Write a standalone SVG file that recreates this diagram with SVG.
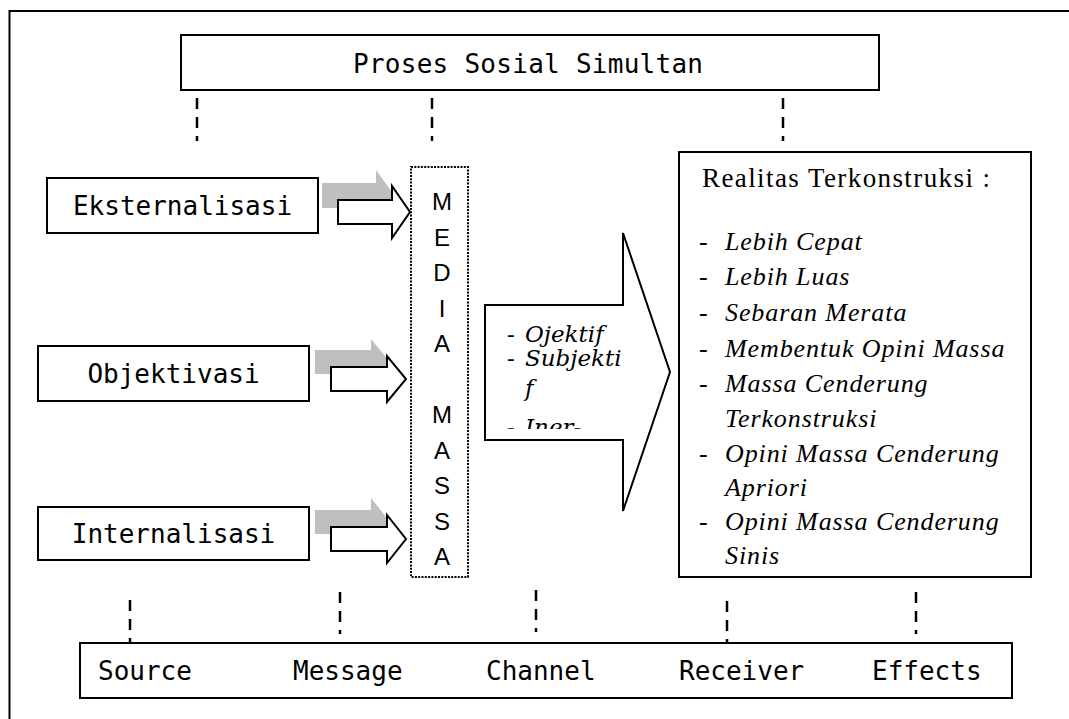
<svg xmlns="http://www.w3.org/2000/svg" width="1069" height="719" viewBox="0 0 1069 719">
<style>
.box{fill:#fff;stroke:#000;stroke-width:2}
.mono{font-family:"DejaVu Sans Mono","Liberation Mono",monospace;font-size:26px;fill:#000}
.media{font-family:"Liberation Sans",Arial,sans-serif;font-size:24px;fill:#000;text-anchor:middle}
.dash{stroke:#000;stroke-width:2.5;stroke-dasharray:11 8;fill:none}
.shadow{fill:#bfbfbf;stroke:none}
.warrow{fill:#fff;stroke:#000;stroke-width:2;stroke-linejoin:miter}
.mid{font-family:"DejaVu Serif","Liberation Serif",serif;font-style:italic;font-size:23px;fill:#000}
.ttl{font-family:"Liberation Serif","Times New Roman",serif;font-size:27px;fill:#000}
.item{font-family:"Liberation Serif","Times New Roman",serif;font-style:italic;font-size:26px;letter-spacing:0.9px;fill:#000}
.dsh{font-family:"Liberation Serif","Times New Roman",serif;font-size:26px;fill:#000}
</style>
<defs>
<clipPath id="midclip"><rect x="486" y="306" width="136" height="123"/></clipPath>
</defs>
<rect width="1069" height="719" fill="#fff"/>
<rect id="frame" x="9.5" y="11" width="1100" height="800" fill="none" stroke="#000" stroke-width="2"/>

<g id="connectors">
<line class="dash" x1="197" y1="98" x2="197" y2="141"/>
<line class="dash" x1="432" y1="98" x2="432" y2="141"/>
<line class="dash" x1="783" y1="98" x2="783" y2="141"/>
<line class="dash" x1="130" y1="600" x2="130" y2="643"/>
<line class="dash" x1="340" y1="592" x2="340" y2="634"/>
<line class="dash" x1="536" y1="590" x2="536" y2="632"/>
<line class="dash" x1="727" y1="601" x2="727" y2="643"/>
<line class="dash" x1="916" y1="592" x2="916" y2="634"/>
<polygon class="shadow" points="322,183 376,183 376,170 394,195 376,221 376,208 322,208"/>
<polygon class="warrow" points="338,200 392,200 392,186 410,212 392,238 392,224 338,224"/>
<polygon class="shadow" points="315,350 371,350 371,339 390,362 371,385 371,374 315,374"/>
<polygon class="warrow" points="331,367 387,367 387,356 406,379 387,402 387,391 331,391"/>
<polygon class="shadow" points="315,510 371,510 371,498 390,522 371,546 371,534 315,534"/>
<polygon class="warrow" points="331,527 387,527 387,515 406,539 387,563 387,551 331,551"/>
</g>

<g id="proses">
<rect class="box" x="181" y="35" width="698" height="55"/>
<text class="mono" x="353" y="73" textLength="350" lengthAdjust="spacing">Proses Sosial Simultan</text>
</g>

<g id="eksternalisasi">
<rect class="box" x="47" y="178" width="271" height="55"/>
<text class="mono" x="182.5" y="215" text-anchor="middle">Eksternalisasi</text>
</g>

<g id="objektivasi">
<rect class="box" x="38" y="346" width="271" height="55"/>
<text class="mono" x="173.5" y="383" text-anchor="middle">Objektivasi</text>
</g>

<g id="internalisasi">
<rect class="box" x="38" y="507" width="271" height="53"/>
<text class="mono" x="173.5" y="543" text-anchor="middle">Internalisasi</text>
</g>

<g id="media-massa">
<rect x="411" y="167" width="57" height="410" fill="#fff" stroke="#000" stroke-width="2" stroke-dasharray="2 1.3"/>
<text class="media" x="442" y="210">M</text>
<text class="media" x="442" y="245.5">E</text>
<text class="media" x="442" y="281">D</text>
<text class="media" x="442" y="316.5">I</text>
<text class="media" x="442" y="352">A</text>
<text class="media" x="442" y="423">M</text>
<text class="media" x="442" y="458.5">A</text>
<text class="media" x="442" y="494">S</text>
<text class="media" x="442" y="529.5">S</text>
<text class="media" x="442" y="565">A</text>
</g>

<g id="big-arrow">
<polygon class="warrow" points="485,305 623,305 623,233 670,372 623,511 623,440 485,440"/>
<g clip-path="url(#midclip)">
<text class="mid" x="507" y="342" font-style="normal">-</text>
<text class="mid" x="525" y="342">Ojektif</text>
<text class="mid" x="507" y="366" font-style="normal">-</text>
<text class="mid" x="525" y="366">Subjekti</text>
<text class="mid" x="525" y="396">f</text>
<text class="mid" x="507" y="435" font-style="normal">-</text>
<text class="mid" x="525" y="435">Iner-</text>
</g>
</g>

<g id="realitas">
<rect class="box" x="679" y="152" width="352" height="425"/>
<text class="ttl" x="702" y="187" textLength="288" lengthAdjust="spacing">Realitas Terkonstruksi :</text>
<text class="dsh" x="699" y="250">-</text><text class="item" x="725" y="250">Lebih Cepat</text>
<text class="dsh" x="699" y="285">-</text><text class="item" x="725" y="285">Lebih Luas</text>
<text class="dsh" x="699" y="321">-</text><text class="item" x="725" y="321">Sebaran Merata</text>
<text class="dsh" x="699" y="357">-</text><text class="item" x="725" y="357">Membentuk Opini Massa</text>
<text class="dsh" x="699" y="392">-</text><text class="item" x="725" y="392">Massa Cenderung</text>
<text class="item" x="725" y="427">Terkonstruksi</text>
<text class="dsh" x="699" y="462">-</text><text class="item" x="725" y="462">Opini Massa Cenderung</text>
<text class="item" x="725" y="496">Apriori</text>
<text class="dsh" x="699" y="530">-</text><text class="item" x="725" y="530">Opini Massa Cenderung</text>
<text class="item" x="725" y="564">Sinis</text>
</g>

<g id="smcre">
<rect class="box" x="80" y="643" width="932" height="55"/>
<text class="mono" x="98" y="680">Source</text>
<text class="mono" x="293" y="680">Message</text>
<text class="mono" x="486" y="680">Channel</text>
<text class="mono" x="679" y="680">Receiver</text>
<text class="mono" x="872" y="680">Effects</text>
</g>
</svg>
